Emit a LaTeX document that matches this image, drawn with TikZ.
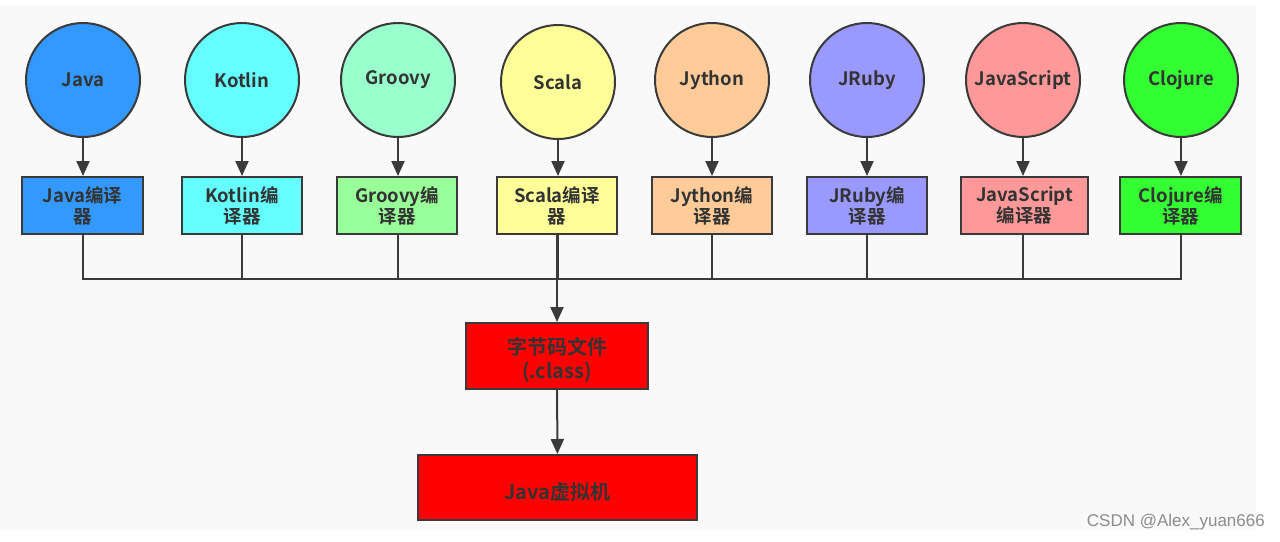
\documentclass[tikz,border=0pt]{standalone}
\usepackage{fontspec}
\setmainfont{Noto Sans CJK SC}[BoldFont={Noto Sans CJK SC Bold}]
\newfontfamily\wmfont{Liberation Sans}
\usetikzlibrary{arrows.meta}
\definecolor{cjava}{HTML}{3399FF}
\definecolor{ckotlin}{HTML}{66FFFF}
\definecolor{cgroovyc}{HTML}{99FFCC}
\definecolor{cgroovyb}{HTML}{99FF99}
\definecolor{cscala}{HTML}{FFFF99}
\definecolor{cjython}{HTML}{FFCC99}
\definecolor{cjruby}{HTML}{9999FF}
\definecolor{cjs}{HTML}{FF9999}
\definecolor{cclojure}{HTML}{33FF33}
\definecolor{cred}{HTML}{FF0000}
\definecolor{cline}{HTML}{3A3A3A}
\definecolor{ctext}{HTML}{333333}
\definecolor{cbg}{HTML}{F9F9F9}
\begin{document}
\begin{tikzpicture}[x=1pt,y=-1pt,
  lang/.style={circle,draw=cline,line width=2pt,minimum size=114pt,inner sep=0pt,
    font=\bfseries\fontsize{18.5}{21}\selectfont,text=ctext},
  comp/.style={rectangle,draw=cline,line width=2pt,minimum width=120pt,minimum height=57pt,
    inner sep=1pt,align=center,font=\bfseries\fontsize{18.5}{21}\selectfont,text=ctext},
  bigbox/.style={rectangle,draw=cline,line width=2pt,fill=cred,inner sep=1pt},
  bigtext/.style={align=center,inner sep=0pt,font=\bfseries\fontsize{20}{24}\selectfont,text=ctext},
  arr/.style={draw=cline,line width=2pt,-{Triangle[width=13pt,length=15pt]}},
  ln/.style={draw=cline,line width=2pt}]
\useasboundingbox (0,0) rectangle (1280,541);
\fill[white] (0,0) rectangle (1280,541);
\fill[cbg] (0,5) rectangle (1256,530);
% circles
\node[lang,fill=cjava] (c1) at (83,80) {Java};
\node[lang,fill=ckotlin] (c2) at (242,80) {Kotlin};
\node[lang,fill=cgroovyc] (c3) at (398,80) {Groovy};
\node[lang,fill=cscala] (c4) at (558,82) {Scala};
\node[lang,fill=cjython] (c5) at (712,80) {Jython};
\node[lang,fill=cjruby] (c6) at (867,80) {JRuby};
\node[lang,fill=cjs] (c7) at (1023,80) {JavaScript};
\node[lang,fill=cclojure] (c8) at (1181,80) {Clojure};
% compilers
\node[comp,fill=cjava,minimum width=121pt] (b1) at (82.5,205.5) {Java编译\\器};
\node[comp,fill=ckotlin] (b2) at (242,205.5) {Kotlin编\\译器};
\node[comp,fill=cgroovyb] (b3) at (397,205.5) {Groovy编\\译器};
\node[comp,fill=cscala] (b4) at (557,205.5) {Scala编译\\器};
\node[comp,fill=cjython] (b5) at (712,205.5) {Jython编\\译器};
\node[comp,fill=cjruby] (b6) at (867,205.5) {JRuby编\\译器};
\node[comp,fill=cjs,minimum width=127pt] (b7) at (1024.5,205.5) {JavaScript\\编译器};
\node[comp,fill=cclojure,minimum width=121pt] (b8) at (1180.5,205.5) {Clojure编\\译器};
% bytecode and jvm
\node[bigbox,minimum width=182pt,minimum height=66pt,
  label={[bigtext,yshift=-4pt]center:字节码文件\\(.class)}] (bc) at (557,356) {};
\node[bigbox,minimum width=279pt,minimum height=65pt,
  label={[bigtext,yshift=-4pt]center:Java虚拟机}] (jvm) at (557.5,487.5) {};
% arrows circle -> compiler
\foreach \i in {1,...,8} {\draw[arr] (c\i) -- (c\i |- b\i.north);}
% bus
\coordinate (busL) at (83,279);
\coordinate (busR) at (1181,279);
\coordinate (busM) at (557,279);
\draw[ln] (b1.south -| c1) |- (busR) -- (b8.south -| c8);
\foreach \i in {2,...,7} {\draw[ln] (b\i.south -| c\i) -- (c\i |- busL);}
\draw[arr] (b4.south -| busM) -- (bc.north);
\draw[arr] (bc) -- (jvm);
% watermark
\node[anchor=east,inner sep=0pt,font=\wmfont\fontsize{17}{20}\selectfont,text=black!45] (wm) at (1265,522) {CSDN @Alex\_yuan666};
\end{tikzpicture}
\end{document}
